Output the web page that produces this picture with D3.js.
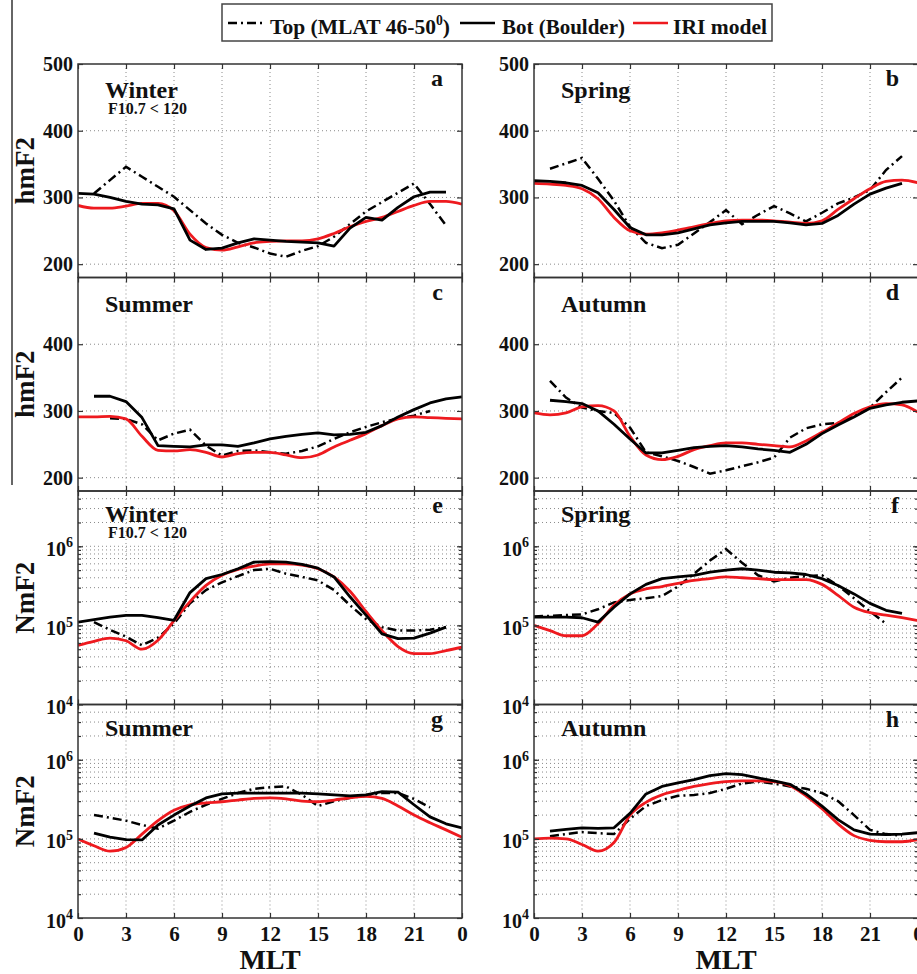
<!DOCTYPE html>
<html>
<head>
<meta charset="utf-8">
<script src="https://cdn.jsdelivr.net/npm/d3@7"></script>
<style>
  body { margin: 0; background: #fff; }
  text { font-family: "Liberation Serif", "Times New Roman", serif; font-weight: bold; fill: #111; }
</style>
</head>
<body>
<script>
// MLT hours, one value per hour 0..24 (null = no data)
const hours = d3.range(0, 25);
const hourTicks = [0, 3, 6, 9, 12, 15, 18, 21, 24];
const hourLabels = ['0', '3', '6', '9', '12', '15', '18', '21', '0'];

// hmF2 (km)
const hmTopWinter = [null, 306, 326, 346, 331, 316, 301, 281, 261, 244, 232, 225, 216, 211, 220, 227, 241, 260, 279, 293, 307, 321, 290, 258, null];
const hmBotWinter = [306, 305, 300, 294, 290, 289, 283, 236, 222, 224, 232, 238, 236, 234, 233, 232, 227, 254, 270, 266, 285, 301, 308, 308, null];
const hmIriWinter = [288, 284, 284, 287, 291, 291, 280, 245, 225, 221, 226, 232, 234, 235, 235, 238, 246, 256, 264, 270, 279, 288, 294, 294, 290];

const hmTopSpring = [null, 343, 351, 359, 328, 295, 256, 232, 224, 229, 246, 263, 281, 260, 274, 287, 276, 264, 277, 291, 300, 311, 341, 362, null];
const hmBotSpring = [325, 324, 322, 318, 307, 282, 255, 244, 244, 247, 253, 259, 262, 264, 264, 264, 262, 259, 261, 273, 290, 305, 314, 321, null];
const hmIriSpring = [321, 320, 318, 313, 298, 270, 250, 245, 247, 251, 256, 261, 265, 266, 266, 265, 263, 261, 265, 282, 298, 313, 324, 326, 322];

const hmTopSummer = [null, null, 289, 288, 280, 256, 266, 272, 248, 233, 240, 241, 238, 236, 240, 247, 258, 268, 276, 283, 289, 293, 300, null, null];
const hmBotSummer = [null, 322, 322, 314, 290, 248, 247, 246, 249, 249, 247, 252, 258, 262, 265, 267, 264, 265, 268, 278, 291, 302, 312, 318, 321];
const hmIriSummer = [291, 291, 292, 288, 262, 241, 240, 242, 238, 231, 236, 238, 238, 234, 230, 234, 246, 256, 266, 278, 288, 291, 290, 289, 288];

const hmTopAutumn = [null, 345, 320, 305, 300, 297, 275, 238, 232, 225, 216, 206, 211, 217, 223, 230, 260, 274, 280, 282, 292, 305, 328, 350, null];
const hmBotAutumn = [null, 316, 314, 311, 300, 280, 258, 237, 237, 241, 245, 247, 248, 246, 243, 241, 238, 250, 266, 279, 291, 304, 309, 313, 315];
const hmIriAutumn = [297, 294, 297, 306, 308, 300, 262, 234, 227, 232, 242, 248, 252, 252, 250, 248, 246, 255, 268, 282, 296, 306, 311, 309, 298];

// NmF2 (el/cm3)
const nmTopWinter = [null, 1.10e5, 8.8e4, 7.2e4, 5.6e4, 7.0e4, 1.05e5, 1.9e5, 2.8e5, 3.5e5, 4.2e5, 5.0e5, 5.2e5, 4.5e5, 4.1e5, 3.7e5, 2.8e5, 1.8e5, 1.2e5, 9.5e4, 8.6e4, 8.6e4, 8.8e4, 9.5e4, null];
const nmBotWinter = [1.10e5, 1.18e5, 1.27e5, 1.34e5, 1.34e5, 1.25e5, 1.16e5, 2.6e5, 3.9e5, 4.4e5, 5.2e5, 6.3e5, 6.4e5, 6.3e5, 5.9e5, 5.3e5, 4.1e5, 2.3e5, 1.35e5, 7.8e4, 6.8e4, 6.9e4, 8.0e4, 9.5e4, null];
const nmIriWinter = [5.6e4, 6.3e4, 6.9e4, 6.4e4, 5.0e4, 6.5e4, 1.15e5, 2.0e5, 3.2e5, 4.3e5, 5.1e5, 5.6e5, 6.0e5, 6.0e5, 5.8e5, 5.2e5, 4.1e5, 2.7e5, 1.5e5, 8.6e4, 5.4e4, 4.4e4, 4.4e4, 4.8e4, 5.3e4];

const nmTopSpring = [1.30e5, 1.32e5, 1.35e5, 1.38e5, 1.6e5, 1.95e5, 2.1e5, 2.2e5, 2.35e5, 3.1e5, 4.5e5, 6.6e5, 9.2e5, 6.2e5, 4.3e5, 3.6e5, 4.0e5, 4.2e5, 4.3e5, 3.2e5, 2.2e5, 1.5e5, 1.05e5, null, null];
const nmBotSpring = [1.27e5, 1.27e5, 1.27e5, 1.25e5, 1.10e5, 1.7e5, 2.5e5, 3.3e5, 3.9e5, 4.1e5, 4.3e5, 4.7e5, 5.0e5, 5.2e5, 5.0e5, 4.7e5, 4.6e5, 4.4e5, 3.9e5, 3.2e5, 2.5e5, 1.9e5, 1.55e5, 1.42e5, null];
const nmIriSpring = [1.0e5, 8.6e4, 7.4e4, 7.4e4, 1.05e5, 1.8e5, 2.5e5, 2.9e5, 3.1e5, 3.4e5, 3.7e5, 3.9e5, 4.1e5, 4.0e5, 3.9e5, 3.8e5, 3.8e5, 3.8e5, 3.3e5, 2.4e5, 1.7e5, 1.45e5, 1.35e5, 1.25e5, 1.15e5];

const nmTopSummer = [null, 2.0e5, 1.85e5, 1.7e5, 1.5e5, 1.35e5, 1.7e5, 2.2e5, 2.7e5, 3.2e5, 3.8e5, 4.3e5, 4.5e5, 4.6e5, 3.6e5, 2.6e5, 3.0e5, 3.3e5, 3.5e5, 3.8e5, 3.8e5, 3.2e5, 2.5e5, null, null];
const nmBotSummer = [null, 1.18e5, 1.05e5, 9.8e4, 9.7e4, 1.5e5, 2.0e5, 2.6e5, 3.3e5, 3.7e5, 3.8e5, 3.8e5, 3.8e5, 3.8e5, 3.8e5, 3.7e5, 3.6e5, 3.5e5, 3.6e5, 3.95e5, 3.9e5, 2.7e5, 1.9e5, 1.55e5, 1.38e5];
const nmIriSummer = [1.0e5, 8.2e4, 7.0e4, 7.8e4, 1.15e5, 1.7e5, 2.3e5, 2.7e5, 2.85e5, 2.95e5, 3.1e5, 3.25e5, 3.3e5, 3.2e5, 3.0e5, 2.95e5, 3.1e5, 3.3e5, 3.45e5, 3.25e5, 2.6e5, 2.0e5, 1.6e5, 1.3e5, 1.05e5];

const nmTopAutumn = [null, 1.08e5, 1.15e5, 1.22e5, 1.18e5, 1.15e5, 1.8e5, 2.6e5, 3.1e5, 3.5e5, 3.6e5, 3.8e5, 4.3e5, 5.0e5, 5.3e5, 5.0e5, 4.6e5, 4.3e5, 3.8e5, 3.0e5, 2.0e5, 1.3e5, 1.15e5, 1.1e5, null];
const nmBotAutumn = [null, 1.25e5, 1.32e5, 1.38e5, 1.36e5, 1.38e5, 2.1e5, 3.7e5, 4.6e5, 5.1e5, 5.6e5, 6.3e5, 6.7e5, 6.5e5, 5.9e5, 5.4e5, 4.9e5, 3.7e5, 2.6e5, 1.75e5, 1.3e5, 1.15e5, 1.13e5, 1.15e5, 1.2e5];
const nmIriAutumn = [1.0e5, 1.02e5, 1.0e5, 8.5e4, 7.0e4, 9.0e4, 2.0e5, 2.9e5, 3.6e5, 4.1e5, 4.6e5, 5.0e5, 5.3e5, 5.4e5, 5.4e5, 5.3e5, 4.7e5, 3.5e5, 2.4e5, 1.55e5, 1.1e5, 9.6e4, 9.2e4, 9.2e4, 9.8e4];

const legendLabels = ['Top (MLAT 46-50', 'Bot (Boulder)', 'IRI model'];

// panel layout
const width = 917, height = 974;
const colX = [[78, 462], [534, 918]];
const rowY = [64, 277.5, 491, 704.5, 918];
const red = '#ee1a1f';

const panels = [
  { id: 'a', col: 0, row: 0, kind: 'hm', season: 'Winter', sub: 'F10.7 < 120', top: hmTopWinter, bot: hmBotWinter, iri: hmIriWinter, yTicks: [200, 300, 400, 500] },
  { id: 'b', col: 1, row: 0, kind: 'hm', season: 'Spring', top: hmTopSpring, bot: hmBotSpring, iri: hmIriSpring, yTicks: [200, 300, 400, 500] },
  { id: 'c', col: 0, row: 1, kind: 'hm', season: 'Summer', top: hmTopSummer, bot: hmBotSummer, iri: hmIriSummer, yTicks: [200, 300, 400] },
  { id: 'd', col: 1, row: 1, kind: 'hm', season: 'Autumn', top: hmTopAutumn, bot: hmBotAutumn, iri: hmIriAutumn, yTicks: [200, 300, 400] },
  { id: 'e', col: 0, row: 2, kind: 'nm', season: 'Winter', sub: 'F10.7 < 120', top: nmTopWinter, bot: nmBotWinter, iri: nmIriWinter, yTicks: [1e4, 1e5, 1e6] },
  { id: 'f', col: 1, row: 2, kind: 'nm', season: 'Spring', top: nmTopSpring, bot: nmBotSpring, iri: nmIriSpring, yTicks: [1e4, 1e5, 1e6] },
  { id: 'g', col: 0, row: 3, kind: 'nm', season: 'Summer', top: nmTopSummer, bot: nmBotSummer, iri: nmIriSummer, yTicks: [1e4, 1e5, 1e6] },
  { id: 'h', col: 1, row: 3, kind: 'nm', season: 'Autumn', top: nmTopAutumn, bot: nmBotAutumn, iri: nmIriAutumn, yTicks: [1e4, 1e5, 1e6] }
];

const svg = d3.select('body').append('svg')
  .attr('width', width)
  .attr('height', height);

// stray frame line on the left of the upper panels
svg.append('line')
  .attr('x1', 12).attr('x2', 12).attr('y1', 0).attr('y2', 485)
  .attr('stroke', '#333').attr('stroke-width', 1.5);

// log minor values
const logMinor = [];
[1e4, 1e5, 1e6].forEach(d => {
  for (let k = 1; k <= 9; k++) {
    const v = k * d;
    if (v > 1e4 && v < 5e6) logMinor.push(v);
  }
});

function styleAxis(g) {
  g.attr('font-size', null).attr('font-family', null);
  g.select('.domain').remove();
  g.selectAll('line').attr('stroke', '#333').attr('stroke-width', 1.2);
}

panels.forEach(p => {
  const [x0, x1] = colX[p.col];
  const y0 = rowY[p.row], y1 = rowY[p.row + 1];

  const x = d3.scaleLinear().domain([0, 24]).range([x0, x1]);
  const y = p.kind === 'hm'
    ? d3.scaleLinear().domain([180, 500]).range([y1, y0])
    : d3.scaleLog().domain([1e4, 5e6]).range([y1, y0]);

  const g = svg.append('g').attr('class', 'panel-' + p.id);

  g.append('clipPath').attr('id', 'clip-' + p.id)
    .append('rect')
    .attr('x', x0).attr('y', y0).attr('width', x1 - x0).attr('height', y1 - y0);

  // grid
  const gridY = p.kind === 'hm' ? [200, 300, 400] : logMinor;
  g.append('g').selectAll('line').data(gridY).enter().append('line')
    .attr('x1', x0).attr('x2', x1)
    .attr('y1', d => y(d)).attr('y2', d => y(d))
    .attr('stroke', '#8a8a8a').attr('stroke-width', 1)
    .attr('stroke-dasharray', '1,3');
  g.append('g').selectAll('line').data(hourTicks.slice(1, -1)).enter().append('line')
    .attr('x1', d => x(d)).attr('x2', d => x(d))
    .attr('y1', y0).attr('y2', y1)
    .attr('stroke', '#8a8a8a').attr('stroke-width', 1)
    .attr('stroke-dasharray', '1,3');

  // lines
  const lines = g.append('g').attr('clip-path', 'url(#clip-' + p.id + ')');
  const lineLin = d3.line()
    .defined(d => d[1] != null)
    .x(d => x(d[0])).y(d => y(d[1]));
  const lineSmooth = d3.line()
    .defined(d => d[1] != null)
    .curve(d3.curveMonotoneX)
    .x(d => x(d[0])).y(d => y(d[1]));

  lines.append('path')
    .datum(hours.map((h, i) => [h, p.top[i]]))
    .attr('d', lineLin)
    .attr('fill', 'none').attr('stroke', '#000').attr('stroke-width', 2.5)
    .attr('stroke-dasharray', '9,4,2,4');
  lines.append('path')
    .datum(hours.map((h, i) => [h, p.iri[i]]))
    .attr('d', lineSmooth)
    .attr('fill', 'none').attr('stroke', red).attr('stroke-width', 2.8);
  lines.append('path')
    .datum(hours.map((h, i) => [h, p.bot[i]]))
    .attr('d', lineLin)
    .attr('fill', 'none').attr('stroke', '#000').attr('stroke-width', 2.8)
    .attr('stroke-linejoin', 'round');

  // box
  g.append('rect')
    .attr('x', x0).attr('y', y0).attr('width', x1 - x0).attr('height', y1 - y0)
    .attr('fill', 'none').attr('stroke', '#333').attr('stroke-width', 1.5);

  // x axes (ticks inward)
  const bottomRow = p.row === 3;
  g.append('g').attr('transform', 'translate(0,' + y1 + ')')
    .call(d3.axisBottom(x).tickValues(hourTicks).tickSize(-5).tickPadding(8)
      .tickFormat((d, i) => bottomRow ? hourLabels[i] : ''))
    .call(styleAxis)
    .selectAll('text').attr('font-size', 21).attr('fill', '#111');
  g.append('g').attr('transform', 'translate(0,' + y0 + ')')
    .call(d3.axisTop(x).tickValues(hourTicks).tickSize(-5).tickFormat(''))
    .call(styleAxis);

  // y axes
  const left = g.append('g').attr('transform', 'translate(' + x0 + ',0)')
    .call(d3.axisLeft(y).tickValues(p.yTicks).tickSize(-5).tickPadding(5)
      .tickFormat(d => p.kind === 'hm' ? d : ''))
    .call(styleAxis);
  left.selectAll('text').attr('font-size', 20).attr('fill', '#111');
  if (p.kind === 'nm') {
    left.selectAll('text').each(function (d) {
      const t = d3.select(this).attr('dy', '0.45em');
      t.append('tspan').text('10');
      t.append('tspan').attr('dy', '-0.6em').attr('font-size', 14).text(Math.round(Math.log10(d)));
    });
  }
  g.append('g').attr('transform', 'translate(' + x1 + ',0)')
    .call(d3.axisRight(y).tickValues(p.yTicks).tickSize(-5).tickFormat(''))
    .call(styleAxis);
  if (p.kind === 'nm') {
    g.append('g').attr('transform', 'translate(' + x0 + ',0)')
      .call(d3.axisLeft(y).tickValues(logMinor).tickSize(-3).tickFormat(''))
      .call(styleAxis);
    g.append('g').attr('transform', 'translate(' + x1 + ',0)')
      .call(d3.axisRight(y).tickValues(logMinor).tickSize(-3).tickFormat(''))
      .call(styleAxis);
  }

  // annotations
  const off = p.kind === 'hm' ? 34 : 31;
  g.append('text').attr('x', x0 + 27).attr('y', y0 + off)
    .attr('font-size', 24).text(p.season);
  if (p.sub) {
    g.append('text').attr('x', x0 + 30).attr('y', y0 + off + 16)
      .attr('font-size', 16).text(p.sub);
  }
  g.append('text').attr('x', x1 - 19).attr('y', y0 + 22)
    .attr('text-anchor', 'end').attr('font-size', 24).text(p.id);

  // y label on left column
  if (p.col === 0) {
    g.append('text')
      .attr('transform', 'translate(34,' + ((y0 + y1) / 2) + ') rotate(-90)')
      .attr('text-anchor', 'middle').attr('font-size', 27)
      .text(p.kind === 'hm' ? 'hmF2' : 'NmF2');
  }
  if (bottomRow) {
    g.append('text').attr('x', (x0 + x1) / 2).attr('y', 969)
      .attr('text-anchor', 'middle').attr('font-size', 28).text('MLT');
  }
});

// legend
const leg = svg.append('g').attr('class', 'legend');
leg.append('rect')
  .attr('x', 222).attr('y', 4).attr('width', 550).attr('height', 37)
  .attr('fill', '#fff').attr('stroke', '#444').attr('stroke-width', 1.5);

const legendItems = [
  { x0: 228, x1: 265, tx: 270, tw: 180, stroke: '#000', dash: '9,4,2,4' },
  { x0: 460, x1: 495, tx: 502, tw: 123, stroke: '#000', dash: null },
  { x0: 633, x1: 668, tx: 673, tw: 94, stroke: red, dash: null }
];
legendItems.forEach((it, i) => {
  leg.append('line')
    .attr('x1', it.x0).attr('x2', it.x1).attr('y1', 23).attr('y2', 23)
    .attr('stroke', it.stroke).attr('stroke-width', 2.5)
    .attr('stroke-dasharray', it.dash);
  const t = leg.append('text').attr('x', it.tx).attr('y', 34)
    .attr('font-size', 22)
    .attr('textLength', it.tw).attr('lengthAdjust', 'spacingAndGlyphs');
  t.append('tspan').text(legendLabels[i]);
  if (i === 0) {
    t.append('tspan').attr('dy', -9).attr('font-size', 14).text('0');
    t.append('tspan').attr('dy', 9).text(')');
  }
});
</script>
</body>
</html>
